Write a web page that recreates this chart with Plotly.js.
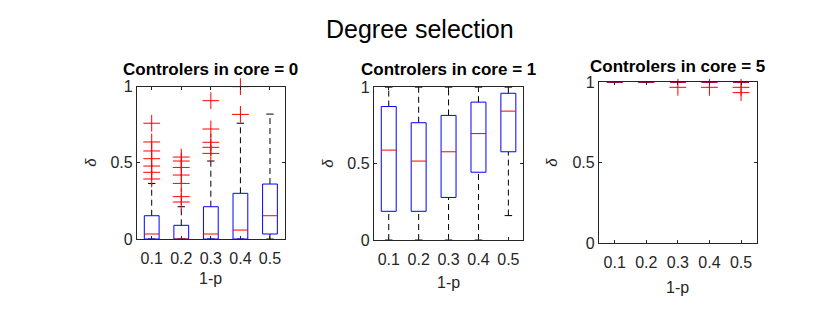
<!DOCTYPE html>
<html><head><meta charset="utf-8">
<script src="https://cdn.plot.ly/plotly-3.0.1.min.js"></script>
<style>body{margin:0;background:#fff}#c{width:840px;height:332px}</style>
</head><body><div id="c"></div>
<script>
// ---- data ----
const cats = [0.1, 0.2, 0.3, 0.4, 0.5];
const xTickLabels = ['0.1', '0.2', '0.3', '0.4', '0.5'];
const yTickVals = [0, 0.5, 1];
const yTickLabels = ['0', '0.5', '1'];
const panelTitles = ['Controlers in core = 0', 'Controlers in core = 1', 'Controlers in core = 5'];

// core = 0
const q1_0  = [0, 0, 0, 0, 0.033];
const med_0 = [0.033, 0, 0.033, 0.059, 0.153];
const q3_0  = [0.153, 0.09, 0.212, 0.30, 0.361];
const lo_0  = [0, 0, 0, 0, 0];
const hi_0  = [0.365, 0.212, 0.512, 0.76, 0.82];
const out_0 = [
  [0.76, 0.637, 0.578, 0.527, 0.479, 0.438, 0.394],
  [0.538, 0.512, 0.470, 0.420, 0.365, 0.278, 0.243],
  [0.908, 0.722, 0.635, 0.602, 0.562],
  [1.0, 0.818],
  []
];
// core = 1
const q1_1  = [0.188, 0.188, 0.279, 0.444, 0.578];
const med_1 = [0.589, 0.517, 0.578, 0.697, 0.844];
const q3_1  = [0.874, 0.768, 0.816, 0.903, 0.961];
const lo_1  = [0, 0, 0, 0, 0.16];
const hi_1  = [1, 1, 1, 1, 1];
const out_1 = [[], [], [], [], []];
// core = 5
const q1_5  = [1, 1, 1, 1, 1];
const med_5 = [1, 1, 1, 1, 1];
const q3_5  = [1, 1, 1, 1, 1];
const lo_5  = [1, 1, 1, 1, 1];
const hi_5  = [1, 1, 1, 1, 1];
const out_5 = [[], [], [0.969], [0.969], [0.969, 0.936]];

const panels = [
  {q1: q1_0, med: med_0, q3: q3_0, lo: lo_0, hi: hi_0, out: out_0},
  {q1: q1_1, med: med_1, q3: q3_1, lo: lo_1, hi: hi_1, out: out_1},
  {q1: q1_5, med: med_5, q3: q3_5, lo: lo_5, hi: hi_5, out: out_5}
];

// ---- style / layout ----
const FONT = 'Liberation Sans, Arial, sans-serif';
const BW = 0.025, CW = 0.0125;
const xDom = [[0.163, 0.339], [0.445, 0.623], [0.713, 0.901]];
const yDom = [[0.280, 0.739], [0.277, 0.737], [0.268, 0.752]];

const traces = [];
panels.forEach((p, i) => {
  const xa = i === 0 ? 'x' : 'x' + (i + 1);
  const ya = i === 0 ? 'y' : 'y' + (i + 1);
  const wx = [], wy = [], cx = [], cy = [], bx = [], by = [], mx = [], my = [], ox = [], oy = [];
  cats.forEach((c, k) => {
    wx.push(c, c, null, c, c, null);
    wy.push(p.q3[k], p.hi[k], null, p.lo[k], p.q1[k], null);
    cx.push(c - CW, c + CW, null, c - CW, c + CW, null);
    cy.push(p.hi[k], p.hi[k], null, p.lo[k], p.lo[k], null);
    bx.push(c - BW, c + BW, c + BW, c - BW, c - BW, null);
    by.push(p.q1[k], p.q1[k], p.q3[k], p.q3[k], p.q1[k], null);
    mx.push(c - BW, c + BW, null);
    my.push(p.med[k], p.med[k], null);
    p.out[k].forEach(v => { ox.push(c); oy.push(v); });
  });
  const base = {xaxis: xa, yaxis: ya, mode: 'lines', showlegend: false, hoverinfo: 'skip', cliponaxis: false};
  traces.push(Object.assign({}, base, {x: wx, y: wy, line: {color: '#000', width: 1, dash: '6px,4px'}}));
  traces.push(Object.assign({}, base, {x: cx, y: cy, line: {color: '#000', width: 1}}));
  traces.push(Object.assign({}, base, {x: bx, y: by, line: {color: '#0000ff', width: 1}}));
  traces.push(Object.assign({}, base, {x: mx, y: my, line: {color: '#ff0000', width: 1}}));
  traces.push(Object.assign({}, base, {x: ox, y: oy, mode: 'markers',
    marker: {symbol: 'cross-thin-open', size: 12, color: '#ff0000', line: {color: '#ff0000', width: 1}}}));
});

const layout = {
  width: 840, height: 332,
  margin: {l: 0, r: 0, t: 0, b: 0},
  paper_bgcolor: '#fff', plot_bgcolor: '#fff',
  font: {family: FONT, size: 16, color: '#262626'},
  showlegend: false,
  annotations: [
    {text: 'Degree selection', xref: 'paper', yref: 'paper', x: 0.5, y: 1 - 29 / 332,
     showarrow: false, font: {size: 25, color: '#000', family: FONT}, xanchor: 'center', yanchor: 'middle'}
  ]
};
const titleY = [70, 69, 66];
const xTitleY = [278, 282, 287];
const yTitleX = [91, 328, 552];
for (let i = 0; i < 3; i++) {
  const s = i === 0 ? '' : String(i + 1);
  const axCommon = {showgrid: false, zeroline: false, showline: true, mirror: 'ticks',
    linecolor: '#262626', linewidth: 1, ticks: 'inside', ticklen: 3, tickcolor: '#262626',
    tickfont: {size: 16, color: '#262626', family: FONT}, fixedrange: true};
  layout['xaxis' + s] = Object.assign({}, axCommon, {domain: xDom[i], anchor: 'y' + s,
    range: [0.05, 0.55], tickmode: 'array', tickvals: cats, ticktext: xTickLabels, ticklabelstandoff: 5});
  layout['yaxis' + s] = Object.assign({}, axCommon, {domain: yDom[i], anchor: 'x' + s,
    range: [0, 1], tickmode: 'array', tickvals: yTickVals, ticktext: yTickLabels});
  const cx = (xDom[i][0] + xDom[i][1]) / 2;
  layout.annotations.push({text: '<b>' + panelTitles[i] + '</b>', xref: 'paper', yref: 'paper',
    x: cx, y: 1 - titleY[i] / 332, showarrow: false, xanchor: 'center', yanchor: 'middle',
    font: {size: 17, color: '#000', family: FONT}});
  layout.annotations.push({text: '1-p', xref: 'paper', yref: 'paper',
    x: cx, y: 1 - xTitleY[i] / 332, showarrow: false, xanchor: 'center', yanchor: 'middle',
    font: {size: 16, color: '#262626', family: FONT}});
  layout.annotations.push({text: '<i>δ</i>', xref: 'paper', yref: 'paper', textangle: -90,
    x: yTitleX[i] / 840, y: (yDom[i][0] + yDom[i][1]) / 2, showarrow: false, xanchor: 'center', yanchor: 'middle',
    font: {size: 15, color: '#262626', family: FONT}});
}
Plotly.newPlot('c', traces, layout, {staticPlot: true, displayModeBar: false});
</script></body></html>
